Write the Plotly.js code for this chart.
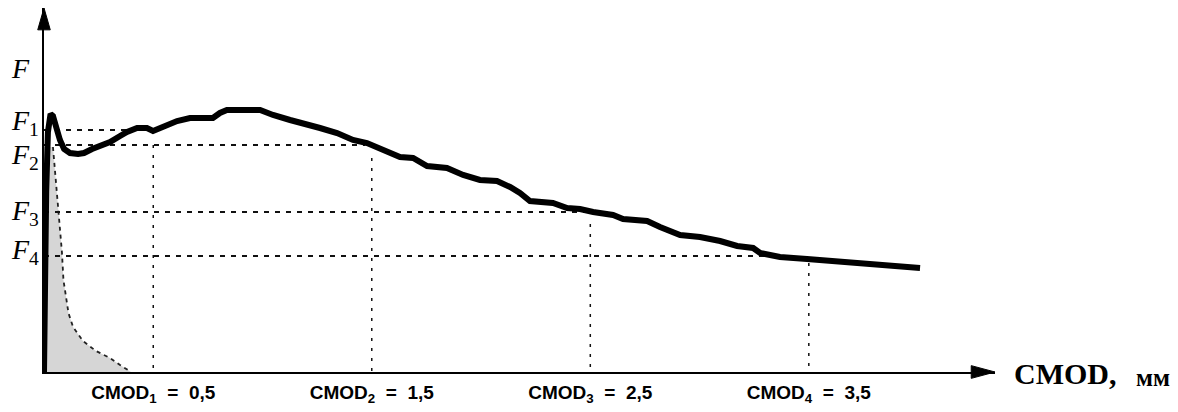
<!DOCTYPE html>
<html><head><meta charset="utf-8">
<script src="https://cdn.plot.ly/plotly-3.0.1.min.js"></script>
<style>html,body{margin:0;padding:0;background:#fff}</style>
</head><body><div id="chart" style="width:1178px;height:412px"></div>
<script>
// Load–CMOD curve (CMOD in mm, F in arbitrary units)
const cmod = [0.000,0.004,0.010,0.018,0.030,0.041,0.055,0.073,0.092,0.119,0.156,0.183,0.220,0.256,0.302,0.348,0.380,0.426,0.471,0.499,0.545,0.609,0.668,0.773,0.805,0.837,0.989,1.048,1.126,1.185,1.263,1.341,1.414,1.478,1.538,1.584,1.629,1.689,1.753,1.844,1.918,1.995,2.073,2.133,2.178,2.224,2.329,2.394,2.453,2.513,2.604,2.650,2.760,2.819,2.911,3.002,3.094,3.172,3.245,3.277,3.368,3.492,3.611,3.703,3.858,4.009];
const force = [0,9.0,18.0,24.0,25.8,25.6,24.4,23.2,22.3,21.9,21.8,21.9,22.3,22.6,23.0,23.6,24.0,24.4,24.4,24.1,24.5,25.1,25.4,25.4,25.9,26.2,26.2,25.7,25.2,24.9,24.4,23.9,23.2,22.9,22.4,22.0,21.5,21.4,20.6,20.4,19.7,19.2,19.1,18.5,17.9,17.1,16.9,16.4,16.3,16.0,15.7,15.3,15.1,14.5,13.7,13.5,13.1,12.6,12.4,11.9,11.5,11.3,11.1,10.9,10.6,10.4];
// Unloading (elastic) branch bounding the shaded area
const unloadX = [0.041,0.050,0.059,0.066,0.073,0.082,0.089,0.101,0.112,0.133,0.178,0.238,0.302,0.348,0.384,0.398];
const unloadF = [22.5,20.2,18.2,16.2,14.2,12.0,9.2,7.2,5.9,4.5,3.1,2.1,1.4,0.7,0.2,0];
// Characteristic levels
const levelNames = ['<i>F</i><sub>1</sub>','<i>F</i><sub>2</sub>','<i>F</i><sub>3</sub>','<i>F</i><sub>4</sub>'];
const levelF = [24.2, 22.7, 16.0, 11.6];
const levelEndX = [0.5, 1.47, 2.5, 3.32];
const cmodTicks = [0.5, 1.5, 2.5, 3.5];
const vTopF = [22.7, 21.4, 14.8, 10.9];
const cmodTickText = ['CMOD<sub>1</sub>\u00a0\u00a0=\u00a0\u00a00,5','CMOD<sub>2</sub>\u00a0\u00a0=\u00a0\u00a01,5','CMOD<sub>3</sub>\u00a0\u00a0=\u00a0\u00a02,5','CMOD<sub>4</sub>\u00a0\u00a0=\u00a0\u00a03,5'];

const traces = [];
traces.push({x: unloadX, y: unloadF, mode: 'lines', fill: 'tozerox', fillcolor: '#d6d6d6',
  line: {color: '#222', width: 1.8, dash: '4px,4px'}, hoverinfo: 'skip', showlegend: false});
for (let i = 0; i < levelF.length; i++) {
  traces.push({x: [0, levelEndX[i]], y: [levelF[i], levelF[i]], mode: 'lines',
    line: {color: '#111', width: 1.9, dash: '5px,6px'}, hoverinfo: 'skip', showlegend: false});
  traces.push({x: [cmodTicks[i], cmodTicks[i]], y: [vTopF[i], 0], mode: 'lines',
    line: {color: '#111', width: 1.5, dash: '3px,7px'}, hoverinfo: 'skip', showlegend: false});
}
traces.push({x: cmod, y: force, mode: 'lines', line: {color: '#000', width: 6},
  hoverinfo: 'skip', showlegend: false});

const serif = 'Liberation Serif, Times New Roman, serif';
const labelPaperX = -0.0365;
const labelY = [25.0, 21.6, 16.0, 12.1];
const annotations = [{text: '<i>F</i>', y: 30.4}]
  .concat(levelNames.map((t, i) => ({text: t, y: labelY[i]})))
  .map(a => Object.assign(a, {xref: 'paper', yref: 'y', x: labelPaperX, xanchor: 'left', yanchor: 'middle',
    showarrow: false, font: {family: serif, size: 28, color: '#000'}}));
annotations.push({xref: 'paper', yref: 'paper', x: 1.018, y: -0.005, xanchor: 'left', yanchor: 'middle',
  showarrow: false, text: '<b>CMOD,</b>', font: {family: serif, size: 30, color: '#000'}});
annotations.push({xref: 'paper', yref: 'paper', x: 1.146, y: -0.014, xanchor: 'left', yanchor: 'middle',
  showarrow: false, text: '<b>мм</b>', font: {family: serif, size: 25, color: '#000'}});

const layout = {
  width: 1178, height: 412,
  margin: {l: 44, r: 183, t: 8, b: 40},
  paper_bgcolor: '#fff', plot_bgcolor: '#fff',
  xaxis: {range: [0, 4.352], showgrid: false, zeroline: false, showline: true, linecolor: '#000', linewidth: 2,
    tickvals: cmodTicks, ticktext: cmodTickText, ticks: '', ticklabelstandoff: 2,
    tickfont: {family: 'Liberation Sans, Arial, sans-serif', size: 19, color: '#000', weight: 'bold'}},
  yaxis: {range: [0, 36.4], showgrid: false, zeroline: false, showline: true, linecolor: '#000', linewidth: 2,
    showticklabels: false, ticks: ''},
  annotations: annotations,
  shapes: [
    {type: 'path', xref: 'paper', yref: 'paper', path: 'M 0,1.0 L -0.0066,0.94 L 0.0066,0.94 Z',
      fillcolor: '#000', line: {color: '#000', width: 1}},
    {type: 'path', xref: 'paper', yref: 'paper', path: 'M 1.0,0 L 0.975,0.0175 L 0.975,-0.0175 Z',
      fillcolor: '#000', line: {color: '#000', width: 1}}
  ]
};
Plotly.newPlot('chart', traces, layout, {displayModeBar: false, staticPlot: true});
</script></body></html>
